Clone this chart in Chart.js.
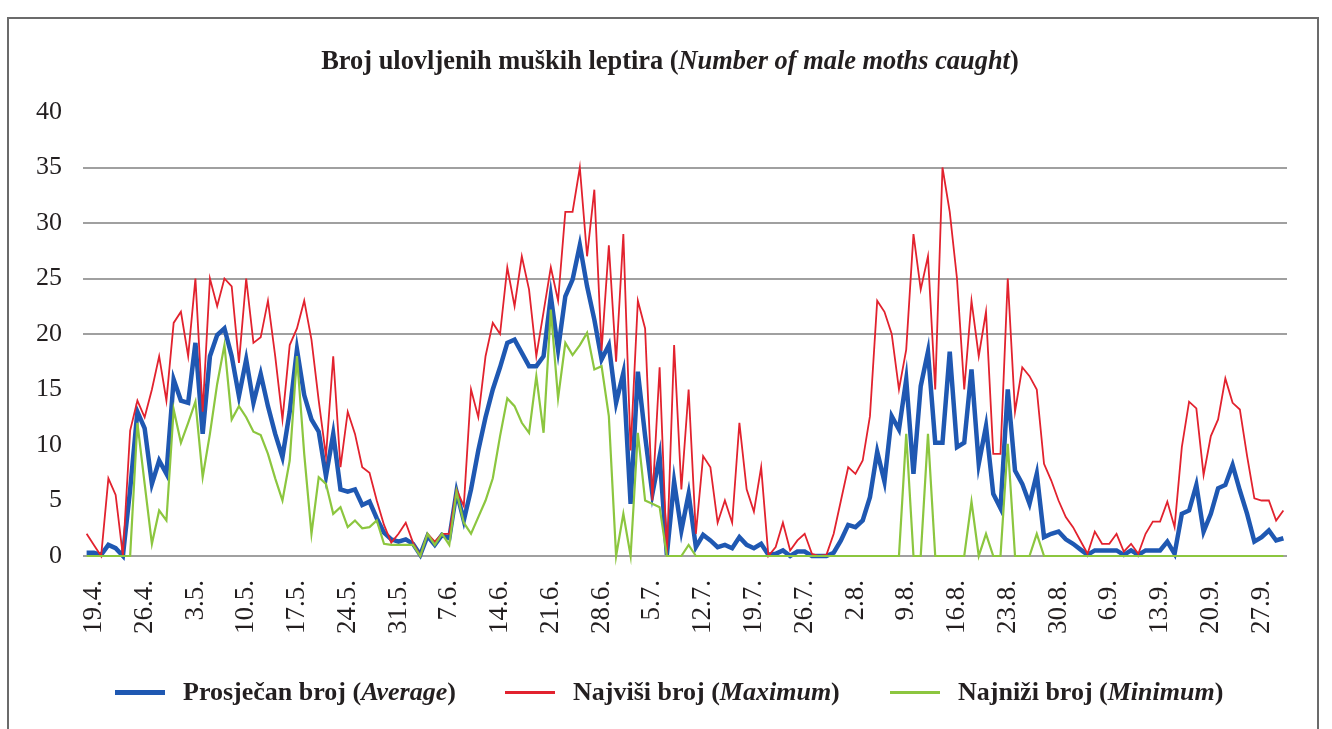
<!DOCTYPE html>
<html>
<head>
<meta charset="utf-8">
<script src="https://cdn.jsdelivr.net/npm/chart.js@4.4.1/dist/chart.umd.min.js"></script>
<style>
  body { margin: 0; background: #fff; }
  #wrap { position: relative; width: 1332px; height: 729px; overflow: hidden; background: #fff; }
  #frame { position: absolute; left: 7px; top: 17px; width: 1312px; height: 760px; border: 2px solid #6b6b6b; box-sizing: border-box; }
  #chart { position: absolute; left: 0; top: 0; }
  .txt { font-family: 'Liberation Serif', 'Times New Roman', serif; font-weight: bold; color: #231f20; font-size: 26px; white-space: nowrap; }
  #title { position: absolute; left: 4px; width: 1332px; top: 45px; text-align: center; line-height: 30px; font-size: 26.4px; }
  .leg { position: absolute; top: 677px; height: 30px; display: flex; align-items: center; }
  .leg .mark { width: 50px; margin-right: 18px; }
</style>
</head>
<body>
<div id="wrap">
  <div id="frame"></div>
  <canvas id="chart" width="1332" height="729"></canvas>
  <div id="title" class="txt">Broj ulovljenih muških leptira (<i>Number of male moths caught</i>)</div>
  <div id="legend"></div>
</div>
<script>
// dani od 18.4. do 30.9.
const startDay = new Date(2000, 3, 18);
const days = [];
for (let d = new Date(startDay); d <= new Date(2000, 8, 30); d.setDate(d.getDate() + 1)) {
  days.push(d.getDate() + '.' + (d.getMonth() + 1) + '.');
}

const tickLabels = ['19.4.', '26.4.', '3.5.', '10.5.', '17.5.', '24.5.', '31.5.', '7.6.',
  '14.6.', '21.6.', '28.6.', '5.7.', '12.7.', '19.7.', '26.7.', '2.8.', '9.8.', '16.8.',
  '23.8.', '30.8.', '6.9.', '13.9.', '20.9.', '27.9.'];

const yTicks = [0, 5, 10, 15, 20, 25, 30, 35, 40];
const gridValues = [0, 20, 25, 30, 35];

// Prosječan broj (Average)
const average = [
  0.3, 0.3, 0.1, 1, 0.7, 0, 6, 13, 11.5, 6.5,
  8.6, 7.4, 15.9, 14, 13.8, 19.2, 11, 18, 19.9, 20.5,
  18, 14.4, 17.7, 13.8, 16.4, 13.5, 11, 8.9, 13, 18.6,
  14.5, 12.3, 11.2, 7.2, 11, 6, 5.8, 6, 4.6, 4.9,
  3.4, 2.1, 1.5, 1.3, 1.5, 1.1, 0.1, 1.8, 1, 1.9,
  1.6, 5.8, 3.2, 6, 9.5, 12.5, 15, 17, 19.2, 19.5,
  18.3, 17.1, 17.1, 18, 23.4, 18.6, 23.4, 24.9, 28, 24.3,
  21.3, 17.7, 19, 13.8, 16.5, 4.7, 16.6, 10.8, 5.6, 9,
  0.1, 6.7, 2.3, 5.6, 0.8, 1.9, 1.4, 0.8, 1, 0.7,
  1.7, 1, 0.7, 1.1, 0.1, 0.2, 0.5, 0, 0.4, 0.4,
  0, 0, 0, 0.3, 1.4, 2.8, 2.6, 3.2, 5.3, 9.4,
  6.7, 12.6, 11.4, 15.9, 7.4, 15.3, 18.4, 10.2, 10.2, 18.4,
  9.8, 10.2, 16.8, 8.3, 11.7, 5.6, 4.3, 15, 7.7, 6.5,
  4.7, 7.4, 1.7, 2, 2.2, 1.5, 1.1, 0.6, 0.1, 0.5,
  0.5, 0.5, 0.5, 0.1, 0.5, 0.1, 0.5, 0.5, 0.5, 1.3,
  0.2, 3.8, 4.1, 6.4, 2.2, 3.8, 6.1, 6.4, 8.2, 5.9,
  3.8, 1.3, 1.7, 2.3, 1.4, 1.6
];

// Najviši broj (Maximum)
const maximum = [
  2, 1, 0, 7, 5.5, 0, 11.3, 14, 12.5, 15,
  18, 14, 21, 22, 18, 25, 13, 25, 22.5, 25,
  24.3, 17.4, 25, 19.2, 19.7, 23, 18, 12.3, 19, 20.5,
  23, 19.5, 14, 9, 18, 8, 13, 11, 8, 7.5,
  5, 2.8, 1.2, 2, 3, 1.2, 0, 2, 1.3, 2,
  2, 6, 4.5, 15, 12.5, 18, 21, 20, 26, 22.5,
  27, 24, 18, 22, 26, 23, 31, 31, 35, 27,
  33, 18.5, 28, 17.5, 29, 9.5, 23, 20.5, 5, 17,
  0, 19, 6, 15, 2, 9, 8, 3, 5, 3,
  12, 6, 4, 8, 0, 0.8, 3, 0.5, 1.4, 2,
  0.2, 0, 0.1, 2, 5, 8, 7.4, 8.6, 12.6, 23,
  22, 20, 15, 18.6, 29, 24, 27, 15, 35, 31,
  25, 15, 23, 18, 22, 9.2, 9.2, 25, 13, 17,
  16.2, 15, 8.3, 6.8, 5, 3.5, 2.6, 1.4, 0.2, 2.2,
  1.1, 1.1, 2, 0.4, 1.1, 0.2, 2, 3.1, 3.1, 4.9,
  2.6, 9.8, 13.9, 13.3, 7.3, 10.8, 12.3, 16, 13.8, 13.2,
  9, 5.2, 5, 5, 3.2, 4.1
];

// Najniži broj (Minimum)
const minimum = [
  0, 0, 0, 0, 0, 0, 0, 12, 6.5, 1.1,
  4.1, 3.2, 13.2, 10.2, 12, 13.9, 7.1, 11, 15.5, 19,
  12.3, 13.5, 12.5, 11.2, 10.9, 9.2, 7, 5, 8.6, 18,
  9.2, 2, 7.1, 6.5, 3.8, 4.4, 2.6, 3.2, 2.5, 2.6,
  3.2, 1.1, 1, 1, 1, 1, 0, 2, 1, 2,
  1, 5.8, 3, 2, 3.5, 5, 7, 10.8, 14.2, 13.5,
  12, 11.1, 16.2, 11.1, 22.2, 14.2, 19.2, 18.1, 19, 20.1,
  16.8, 17.1, 12.6, 0, 3.8, 0, 11.1, 5, 4.7, 4.4,
  0, 0, 0, 1, 0, 0, 0, 0, 0, 0,
  0, 0, 0, 0, 0, 0, 0, 0, 0, 0,
  0, 0, 0, 0, 0, 0, 0, 0, 0, 0,
  0, 0, 0, 11, 0, 0, 11, 0, 0, 0,
  0, 0, 4.9, 0, 2, 0, 0, 10.1, 0, 0,
  0, 2, 0, 0, 0, 0, 0, 0, 0, 0,
  0, 0, 0, 0, 0, 0, 0, 0, 0, 0,
  0, 0, 0, 0, 0, 0, 0, 0, 0, 0,
  0, 0, 0, 0, 0, 0
];

const series = [
  { name: 'Prosječan broj', en: 'Average', data: average, color: '#1f58b2', width: 4.5, legendWidth: 5, order: 3 },
  { name: 'Najviši broj', en: 'Maximum', data: maximum, color: '#e2222e', width: 1.8, legendWidth: 3, order: 2 },
  { name: 'Najniži broj', en: 'Minimum', data: minimum, color: '#8cc63f', width: 2.2, legendWidth: 3, order: 1 }
];

const serif = "'Liberation Serif', 'Times New Roman', serif";

new Chart(document.getElementById('chart'), {
  type: 'line',
  data: {
    labels: days,
    datasets: series.map(s => ({
      label: s.name + ' (' + s.en + ')',
      data: s.data,
      borderColor: s.color,
      backgroundColor: s.color,
      borderWidth: s.width,
      pointRadius: 0,
      tension: 0,
      clip: false,
      order: s.order
    }))
  },
  options: {
    responsive: false,
    animation: false,
    devicePixelRatio: 1,
    layout: { padding: { top: 112, right: 45, left: 0, bottom: 0 } },
    plugins: {
      legend: { display: false },
      title: { display: false },
      tooltip: { enabled: false }
    },
    scales: {
      x: {
        offset: true,
        grid: { display: false, drawTicks: false },
        border: { display: false },
        ticks: {
          autoSkip: false,
          minRotation: 90,
          maxRotation: 90,
          padding: 24,
          color: '#231f20',
          font: { family: serif, size: 27 },
          callback: (value, index) => tickLabels.includes(days[index]) ? days[index] : ''
        },
        afterFit: scale => {
          scale.height = 173;
          scale.paddingLeft = 0;
          scale.paddingRight = 0;
        }
      },
      y: {
        min: 0,
        max: 40,
        afterBuildTicks: scale => { scale.ticks = yTicks.map(v => ({ value: v })); },
        grid: {
          drawTicks: false,
          lineWidth: 2,
          color: ctx => gridValues.includes(ctx.tick.value) ? '#a0a0a0' : 'rgba(0,0,0,0)'
        },
        border: { display: false },
        ticks: {
          padding: 21,
          color: '#231f20',
          font: { family: serif, size: 26 }
        },
        afterFit: scale => { scale.width = 83; }
      }
    }
  }
});

// legenda
const legendLefts = [115, 505, 890];
const legend = document.getElementById('legend');
series.forEach((s, i) => {
  const item = document.createElement('div');
  item.className = 'leg txt';
  item.style.left = legendLefts[i] + 'px';
  const mark = document.createElement('div');
  mark.className = 'mark';
  mark.style.height = s.legendWidth + 'px';
  mark.style.background = s.color;
  const label = document.createElement('span');
  label.innerHTML = s.name + ' (<i>' + s.en + '</i>)';
  item.appendChild(mark);
  item.appendChild(label);
  legend.appendChild(item);
});
</script>
</body>
</html>
